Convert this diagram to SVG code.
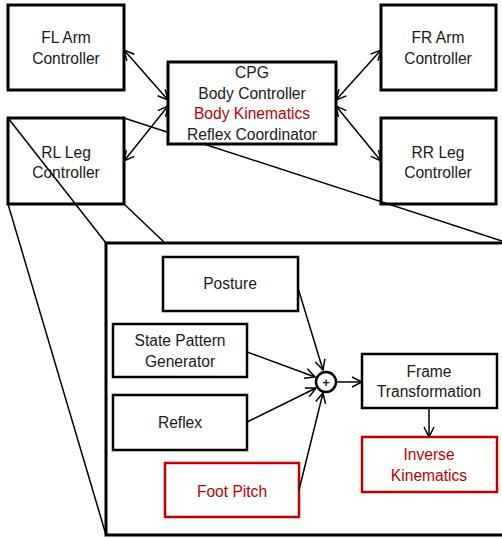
<svg xmlns="http://www.w3.org/2000/svg" width="502" height="538" viewBox="0 0 502 538">
<style>
text{font-family:"Liberation Sans",Arial,sans-serif;font-size:15.6px;fill:#1a1a1a;text-anchor:middle}
.red{fill:#c00000}
.box{fill:#fff;stroke:#000;stroke-width:3}
.ibox{fill:#fff;stroke:#000;stroke-width:2.5}
.rbox{fill:#fff;stroke:#c00000;stroke-width:2.5}
.ln{stroke:#000;stroke-width:1.5;fill:none}
.zl{stroke:#000;stroke-width:1.5;fill:none}
</style>
<defs>
<marker id="ah" viewBox="0 0 12 12" refX="11" refY="6" markerWidth="12" markerHeight="12" markerUnits="userSpaceOnUse" orient="auto-start-reverse">
<path d="M1,1 L11,6 L1,11" fill="none" stroke="#000" stroke-width="1.5"/>
</marker>
</defs>
<g id="zoom-lines">
<line class="zl" x1="8" y1="118" x2="106" y2="243"/>
<line class="zl" x1="124" y1="118" x2="502" y2="241"/>
<line class="zl" x1="8" y1="204" x2="106" y2="535"/>
<line class="zl" x1="124" y1="204" x2="165" y2="243"/>
</g>
<g id="detail-frame"><rect x="106" y="243" width="400" height="292" fill="none" stroke="#000" stroke-width="3"/></g>
<g id="fl"><rect class="box" x="8" y="5" width="116" height="85"/><text x="66" y="43">FL Arm</text><text x="66" y="64">Controller</text></g>
<g id="rl"><rect x="8" y="118" width="116" height="86" fill="none" stroke="#000" stroke-width="3"/><text x="66" y="158">RL Leg</text><text x="66" y="178">Controller</text></g>
<g id="cpg"><rect class="box" x="168" y="62" width="168" height="82"/><text x="252" y="78">CPG</text><text x="252" y="99">Body Controller</text><text class="red" x="252" y="119">Body Kinematics</text><text x="252" y="140">Reflex Coordinator</text></g>
<g id="fr"><rect class="box" x="381" y="5" width="115" height="85"/><text x="438" y="43">FR Arm</text><text x="438" y="64">Controller</text></g>
<g id="rr"><rect x="381" y="118" width="115" height="86" fill="none" stroke="#000" stroke-width="3"/><text x="438" y="158">RR Leg</text><text x="438" y="178">Controller</text></g>
<g id="posture"><rect class="ibox" x="163" y="257" width="135" height="54"/><text x="230" y="289">Posture</text></g>
<g id="spg"><rect class="ibox" x="113" y="324" width="134" height="53"/><text x="180" y="346">State Pattern</text><text x="180" y="367">Generator</text></g>
<g id="reflex"><rect class="ibox" x="113" y="395" width="134" height="55"/><text x="180" y="428">Reflex</text></g>
<g id="footpitch"><rect class="rbox" x="165" y="463" width="134" height="54"/><text class="red" x="232" y="497">Foot Pitch</text></g>
<g id="sum"><circle cx="326" cy="382" r="10" fill="#fff" stroke="#000" stroke-width="2.5"/><text x="326" y="387" style="font-size:13px;font-weight:bold">+</text></g>
<g id="frame"><rect class="ibox" x="362" y="354" width="135" height="54"/><text x="429" y="377">Frame</text><text x="429" y="397">Transformation</text></g>
<g id="ik"><rect class="rbox" x="362" y="437" width="135" height="55"/><text class="red" x="429" y="460">Inverse</text><text class="red" x="429" y="481">Kinematics</text></g>
<g id="connectors">
<line class="ln" x1="124" y1="50" x2="168" y2="100" marker-start="url(#ah)" marker-end="url(#ah)"/>
<line class="ln" x1="124" y1="161" x2="168" y2="106" marker-start="url(#ah)" marker-end="url(#ah)"/>
<line class="ln" x1="381" y1="50" x2="336" y2="100" marker-start="url(#ah)" marker-end="url(#ah)"/>
<line class="ln" x1="381" y1="161" x2="336" y2="106" marker-start="url(#ah)" marker-end="url(#ah)"/>
<line class="ln" x1="298" y1="288" x2="323" y2="370" marker-end="url(#ah)"/>
<line class="ln" x1="247" y1="352" x2="315" y2="377" marker-end="url(#ah)"/>
<line class="ln" x1="247" y1="422" x2="316" y2="388" marker-end="url(#ah)"/>
<line class="ln" x1="299" y1="490" x2="323" y2="393" marker-end="url(#ah)"/>
<line class="ln" x1="337" y1="382" x2="362" y2="382" marker-end="url(#ah)"/>
<line class="ln" x1="429" y1="408" x2="429" y2="437" marker-end="url(#ah)"/>
</g>
</svg>
